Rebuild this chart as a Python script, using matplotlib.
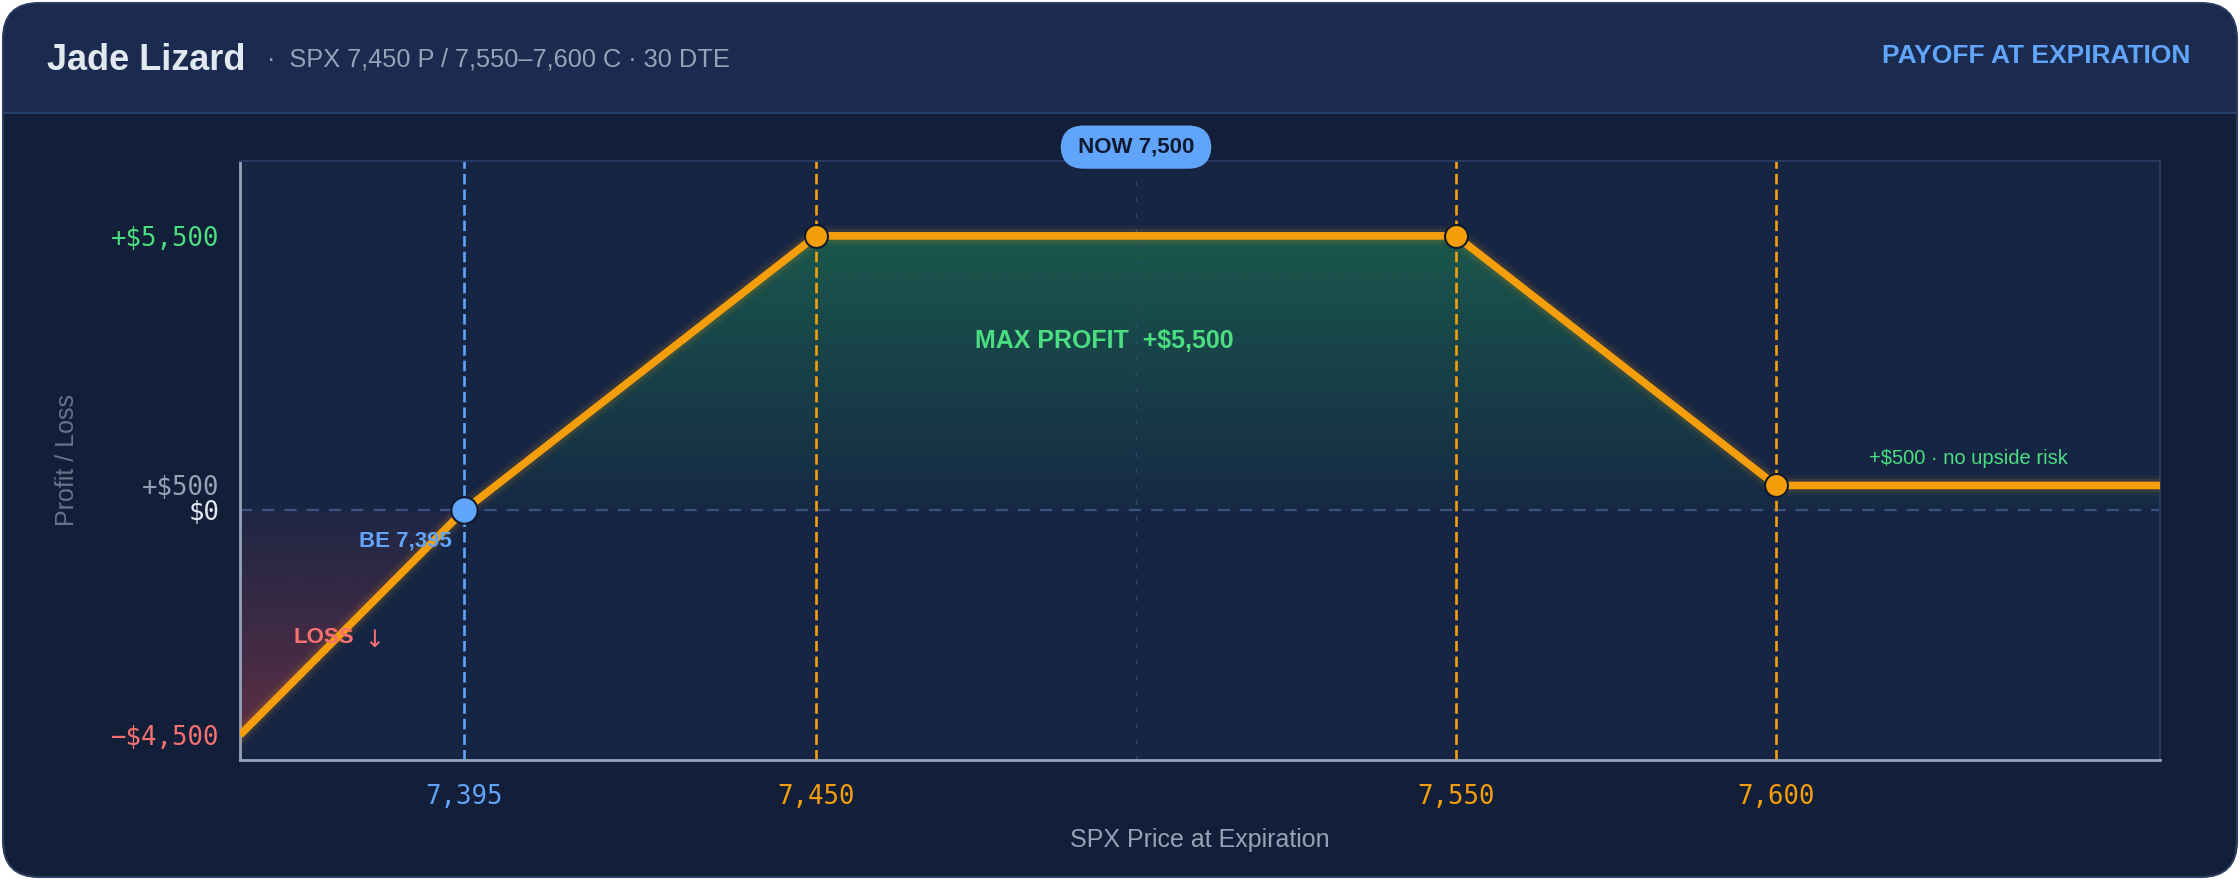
import numpy as np
import matplotlib
matplotlib.use("Agg")
import matplotlib.pyplot as plt
from matplotlib.patches import FancyBboxPatch, Rectangle, Polygon
from matplotlib.transforms import IdentityTransform

# payoff path (price, P/L) as drawn
price = np.array([7360, 7395, 7450, 7550, 7600, 7660])
pnl = np.array([-4500, 0, 5500, 5500, 500, 500])

breakeven = 7395
strikes = [7450, 7550, 7600]
spot = 7500

xticks = [7395, 7450, 7550, 7600]
xtick_labels = ["7,395", "7,450", "7,550", "7,600"]
yticks = [5500, 500, 0, -4500]
ytick_labels = ["+$5,500", "+$500", "$0", "\u2212$4,500"]

BG = "#131f38"
HEAD = "#1b2b4f"
PLOT = "#162544"
ORANGE = "#f59e0b"
BLUE = "#60a5fa"
GREEN = "#4ade80"
RED = "#f87171"
GRAY = "#94a3b8"
SANS = ["Liberation Sans", "DejaVu Sans"]
MONO = ["DejaVu Sans Mono"]

W, H = 2240, 880
fig = plt.figure(figsize=(W / 100, H / 100), dpi=100)
fig.patch.set_facecolor("white")

# card + header (kept behind the axes)
px = IdentityTransform()
card = FancyBboxPatch((3, 3), W - 6, H - 6, boxstyle="round,pad=0,rounding_size=36",
                      transform=px, facecolor=BG, edgecolor="#2a3d63", lw=1.5, zorder=-10)
head = FancyBboxPatch((4, H - 113), W - 8, 109, boxstyle="round,pad=0,rounding_size=35",
                      transform=px, facecolor=HEAD, edgecolor="none", zorder=-9)
head_sq = Rectangle((4, H - 113), W - 8, 40, transform=px, facecolor=HEAD,
                    edgecolor="none", zorder=-9)
sep = Rectangle((4, H - 114), W - 8, 2, transform=px, facecolor="#27406a",
                edgecolor="none", zorder=-8)
fig.patches.extend([card, head, head_sq, sep])

fig.text(47 / W, 1 - 60 / H, "Jade Lizard", family=SANS, fontsize=26, fontweight="bold",
         color="#e2e8f0", va="center", ha="left")
fig.text(267 / W, 1 - 60 / H, "\u00b7  SPX 7,450 P / 7,550\u20137,600 C \u00b7 30 DTE", family=SANS,
         fontsize=18.3, color=GRAY, va="center", ha="left")
fig.text(2190 / W, 1 - 56 / H, "PAYOFF AT EXPIRATION", family=SANS, fontsize=19,
         fontweight="bold", color=BLUE, va="center", ha="right")

ax = fig.add_axes([240 / W, 120 / H, 1920 / W, 599 / H])
ax.set_facecolor(PLOT)


def grad_fill(pts, y_top, y_bot, rgb, a_top, a_bot):
    n = 256
    img = np.zeros((n, 1, 4))
    img[..., :3] = matplotlib.colors.to_rgb(rgb)
    img[..., 3] = np.linspace(a_top, a_bot, n)[:, None]
    im = ax.imshow(img, extent=[price[0], price[-1], y_bot, y_top], origin="upper",
                   aspect="auto", zorder=1, interpolation="bilinear")
    poly = Polygon(pts, closed=True, transform=ax.transData, facecolor="none", edgecolor="none")
    ax.add_patch(poly)
    im.set_clip_path(poly)


pos = pnl >= 0
profit_pts = list(zip(price[pos], pnl[pos])) + [(price[-1], 0)]
grad_fill(profit_pts, pnl.max(), 0, "#22c55e", 0.32, 0.03)
neg = pnl <= 0
loss_pts = [(price[0], 0)] + list(zip(price[neg], pnl[neg]))
grad_fill(loss_pts, 0, pnl.min(), "#ef4444", 0.04, 0.32)

# reference lines
ax.axhline(0, color="#3a5380", lw=1.6, ls=(0, (5.5, 4.5)), zorder=2)
ax.axvline(spot, color="#34496e", lw=1.0, ls=(0, (3, 8.5)), zorder=2)
ax.axvline(breakeven, color=BLUE, lw=1.9, ls=(0, (4, 1.9)), zorder=2)
for k in strikes:
    ax.axvline(k, color=ORANGE, lw=1.9, ls=(0, (4, 1.9)), zorder=2)

# payoff line with glow
for lw, a in [(15, 0.05), (10, 0.10)]:
    ax.plot(price, pnl, color=ORANGE, lw=lw, alpha=a, zorder=3, solid_joinstyle="round")
ax.plot(price, pnl, color=ORANGE, lw=5.5, zorder=4, solid_joinstyle="round",
        solid_capstyle="butt")
ax.plot(price[2:5], pnl[2:5], "o", ms=16.5, mfc=ORANGE, mec="#0f1a30", mew=1.5, zorder=5)
ax.plot([breakeven], [0], "o", ms=19, mfc=BLUE, mec="#0f1a30", mew=1.5, zorder=5)

# annotations
ax.text(7495, 3400, "MAX PROFIT  +$5,500", family=SANS, fontsize=18, fontweight="bold",
        color=GREEN, ha="center", va="center", zorder=6)
ax.text(breakeven - 1.9, -620, "BE 7,395", family=SANS, fontsize=16, fontweight="bold",
        color=BLUE, ha="right", va="center", zorder=6)
ax.text(7368.4, -2550, "LOSS", family=SANS, fontsize=16, fontweight="bold",
        color=RED, ha="left", va="center", zorder=6)
ax.text(7381, -2600, "\u2193", family=["DejaVu Sans"], fontsize=17,
        color=RED, ha="center", va="center", zorder=6)
ax.text(7630, 1050, "+$500 \u00b7 no upside risk", family=SANS, fontsize=14.5,
        color=GREEN, ha="center", va="center", zorder=6)
ax.annotate(" NOW 7,500 ", xy=(spot, 1), xycoords=("data", "axes fraction"),
            xytext=(0, 10), textcoords="offset points", ha="center", va="center",
            family=SANS, fontsize=16, fontweight="bold", color="#0f1a30",
            bbox=dict(boxstyle="round,pad=0.5,rounding_size=1.05", fc=BLUE, ec="none"),
            annotation_clip=False, zorder=10)

ax.set_xlim(price[0], price[-1])
ax.set_ylim(-5000, 7000)

ax.set_xticks(xticks)
ax.set_xticklabels(xtick_labels, family=MONO, fontsize=18.5)
for lab, c in zip(ax.get_xticklabels(), [BLUE, ORANGE, ORANGE, ORANGE]):
    lab.set_color(c)
ax.set_yticks(yticks)
ax.set_yticklabels(ytick_labels, family=MONO, fontsize=18.5)
for lab, c in zip(ax.get_yticklabels(), [GREEN, GRAY, "#e2e8f0", RED]):
    lab.set_color(c)
ax.tick_params(axis="x", length=0, pad=17)
ax.tick_params(axis="y", length=0, pad=15)

for s in ["left", "bottom"]:
    ax.spines[s].set_color(GRAY)
    ax.spines[s].set_linewidth(2)
for s in ["top", "right"]:
    ax.spines[s].set_color("#26395e")
    ax.spines[s].set_linewidth(1.5)

ax.set_xlabel("SPX Price at Expiration", family=SANS, fontsize=18, color=GRAY)
ax.xaxis.set_label_coords(0.5, -(840 - 760) / 599)
ax.xaxis.label.set_va("center")
ax.set_ylabel("Profit / Loss", family=SANS, fontsize=18, color="#64748b")
ax.yaxis.set_label_coords((67 - 240) / 1920, 0.5)
ax.yaxis.label.set_va("center")

fig.savefig("out.png", dpi=100, facecolor=fig.get_facecolor())
